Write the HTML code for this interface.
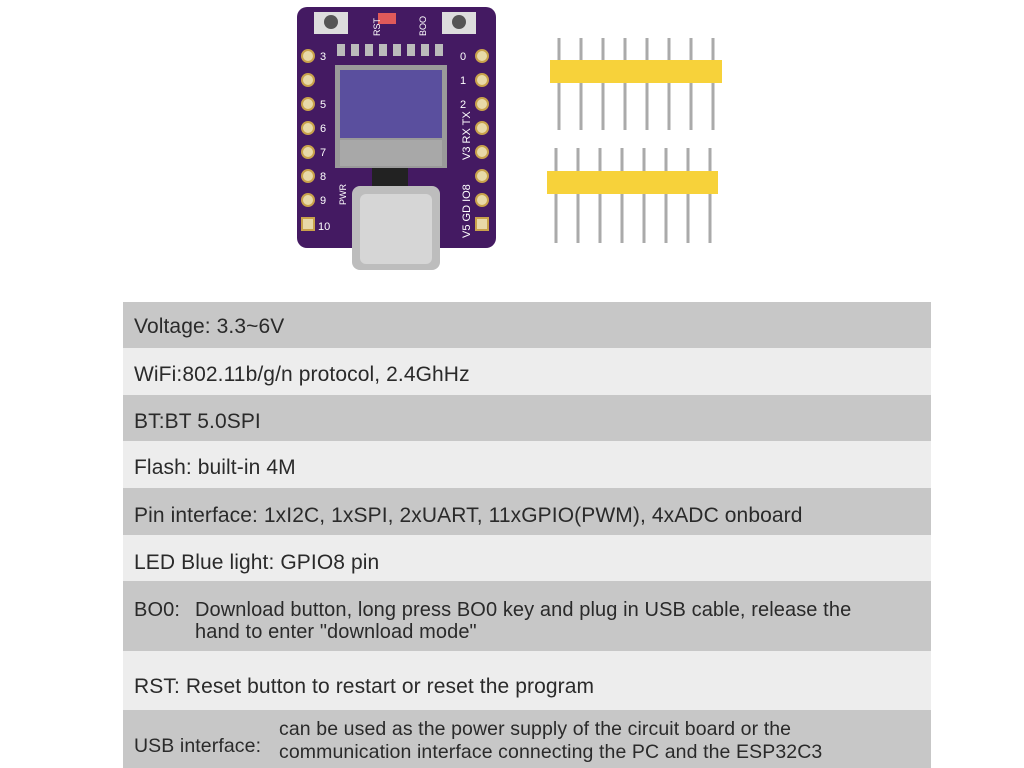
<!DOCTYPE html>
<html><head><style>
body{margin:0;width:1024px;height:768px;background:#fff;position:relative;overflow:hidden;font-family:"Liberation Sans",sans-serif;color:#2a2a2a}
.r{position:absolute;left:123px;width:808px;font-size:21px;box-sizing:border-box;padding-left:11px;letter-spacing:0.1px}
.d{background:#c7c7c7}.l{background:#ededed}
</style></head><body>
<svg width="1024" height="290" style="position:absolute;left:0;top:0">
<rect x="297" y="7" width="199" height="241" rx="10" fill="#441a62"/>
<rect x="314" y="12" width="34" height="22" fill="#ddd"/><circle cx="331" cy="22" r="7" fill="#555"/>
<rect x="442" y="12" width="34" height="22" fill="#ddd"/><circle cx="459" cy="22" r="7" fill="#555"/>
<rect x="378" y="13" width="18" height="11" fill="#e05a5a"/>
<text x="358" y="30" font-size="9" fill="#fff" transform="rotate(-90 372 22)">RST</text>
<text x="404" y="30" font-size="9" fill="#fff" transform="rotate(-90 418 22)">BOO</text>
<g fill="#bbb"><rect x="337" y="44" width="8" height="12"/><rect x="351" y="44" width="8" height="12"/><rect x="365" y="44" width="8" height="12"/><rect x="379" y="44" width="8" height="12"/><rect x="393" y="44" width="8" height="12"/><rect x="407" y="44" width="8" height="12"/><rect x="421" y="44" width="8" height="12"/><rect x="435" y="44" width="8" height="12"/></g>
<g fill="#e8d9a8" stroke="#c9a24b" stroke-width="2">
<circle cx="308" cy="56" r="6"/><circle cx="308" cy="80" r="6"/><circle cx="308" cy="104" r="6"/><circle cx="308" cy="128" r="6"/><circle cx="308" cy="152" r="6"/><circle cx="308" cy="176" r="6"/><circle cx="308" cy="200" r="6"/><rect x="302" y="218" width="12" height="12"/>
<circle cx="482" cy="56" r="6"/><circle cx="482" cy="80" r="6"/><circle cx="482" cy="104" r="6"/><circle cx="482" cy="128" r="6"/><circle cx="482" cy="152" r="6"/><circle cx="482" cy="176" r="6"/><circle cx="482" cy="200" r="6"/><rect x="476" y="218" width="12" height="12"/>
</g>
<g fill="#fff" font-size="11"><text x="320" y="60">3</text><text x="320" y="108">5</text><text x="320" y="132">6</text><text x="320" y="156">7</text><text x="320" y="180">8</text><text x="320" y="204">9</text><text x="318" y="230">10</text>
<text x="460" y="60">0</text><text x="460" y="84">1</text><text x="460" y="108">2</text></g>
<text x="0" y="0" font-size="11" fill="#fff" transform="translate(470 160) rotate(-90)">V3 RX TX</text>
<text x="0" y="0" font-size="11" fill="#fff" transform="translate(470 238) rotate(-90)">V5 GD IO8</text>
<text x="0" y="0" font-size="9" fill="#fff" transform="translate(346 205) rotate(-90)">PWR</text>
<rect x="335" y="65" width="112" height="103" fill="#9a9a9a"/>
<rect x="340" y="70" width="102" height="68" fill="#5a4f9e"/>
<rect x="340" y="140" width="102" height="26" fill="#a8a8a8"/>
<rect x="372" y="168" width="36" height="18" fill="#222"/>
<rect x="352" y="186" width="88" height="84" rx="8" fill="#bdbdbd"/>
<rect x="360" y="194" width="72" height="70" rx="6" fill="#d6d6d6"/>
<g stroke="#aaa" stroke-width="3">
<line x1="559" y1="38" x2="559" y2="130"/><line x1="581" y1="38" x2="581" y2="130"/><line x1="603" y1="38" x2="603" y2="130"/><line x1="625" y1="38" x2="625" y2="130"/><line x1="647" y1="38" x2="647" y2="130"/><line x1="669" y1="38" x2="669" y2="130"/><line x1="691" y1="38" x2="691" y2="130"/><line x1="713" y1="38" x2="713" y2="130"/>
<line x1="556" y1="148" x2="556" y2="243"/><line x1="578" y1="148" x2="578" y2="243"/><line x1="600" y1="148" x2="600" y2="243"/><line x1="622" y1="148" x2="622" y2="243"/><line x1="644" y1="148" x2="644" y2="243"/><line x1="666" y1="148" x2="666" y2="243"/><line x1="688" y1="148" x2="688" y2="243"/><line x1="710" y1="148" x2="710" y2="243"/>
</g>
<rect x="550" y="60" width="172" height="23" fill="#f7d23a"/>
<rect x="547" y="171" width="171" height="23" fill="#f7d23a"/>
</svg>
<div class="r d" style="top:302px;height:46px;line-height:50px">Voltage: 3.3~6V</div>
<div class="r l" style="top:348px;height:47px;line-height:54px">WiFi:802.11b/g/n protocol, 2.4GhHz</div>
<div class="r d" style="top:395px;height:46px;line-height:54px">BT:BT 5.0SPI</div>
<div class="r l" style="top:441px;height:47px;line-height:54px">Flash: built-in 4M</div>
<div class="r d" style="top:488px;height:47px;line-height:56px">Pin interface: 1xI2C, 1xSPI, 2xUART, 11xGPIO(PWM), 4xADC onboard</div>
<div class="r l" style="top:535px;height:46px;line-height:56px">LED Blue light: GPIO8 pin</div>
<div class="r d" style="top:581px;height:70px;font-size:20px"><div style="position:absolute;left:11px;top:18px">BO0:</div><div style="position:absolute;left:72px;top:18px;line-height:22px">Download button, long press BO0 key and plug in USB cable, release the<br>hand to enter "download mode"</div></div>
<div class="r l" style="top:651px;height:59px;line-height:72px">RST: Reset button to restart or reset the program</div>
<div class="r d" style="top:710px;height:58px;font-size:19.5px"><div style="position:absolute;left:11px;top:25px">USB interface:</div><div style="position:absolute;left:156px;top:8px;line-height:23px">can be used as the power supply of the circuit board or the<br>communication interface connecting the PC and the ESP32C3</div></div>
</body></html>
